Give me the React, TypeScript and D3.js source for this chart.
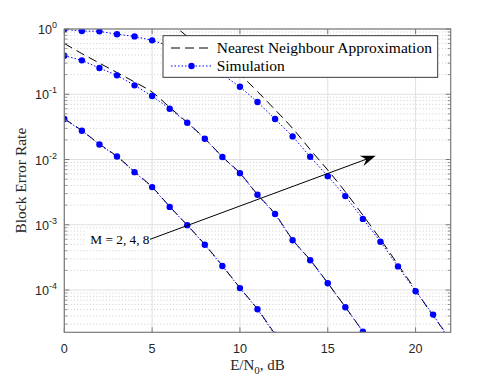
import * as d3 from 'd3';

// Eb/N0 axis values (dB)
const snr = [0, 1, 2, 3, 4, 5, 6, 7, 8, 9, 10, 11, 12, 13, 14, 15, 16, 17, 18, 19, 20, 21, 22];

// simulated block error rate, one array per M (starting at 0 dB)
const simM2 = [0.0417, 0.0276, 0.017, 0.0111, 0.0064, 0.00378, 0.00188, 0.000986, 0.000493, 0.000234, 0.000107, 5.08e-5, 2.05e-5];
const simM4 = [0.39, 0.331, 0.252, 0.195, 0.137, 0.0938, 0.06, 0.0366, 0.0208, 0.0109, 0.00618, 0.00288, 0.00146, 5.8e-4, 2.86e-4, 1.27e-4, 5.45e-5, 2.3e-5];
const simM8 = [0.99, 0.93, 0.92, 0.83, 0.77, 0.67, 0.55, 0.42, 0.3, 0.2, 0.13, 0.076, 0.0417, 0.0226, 0.011, 0.00556, 0.00275, 0.00123, 5.5e-4, 2.3e-4, 9.6e-5, 4.2e-5, 1.6e-5];

// nearest neighbour approximation
const nnM2 = [0.042, 0.0278, 0.0172, 0.0112, 0.0065, 0.0038, 0.0019, 0.00099, 0.0005, 0.000236, 0.000108, 5.1e-5, 2.1e-5];
const nnM4 = [0.6, 0.42, 0.3, 0.215, 0.154, 0.108, 0.063, 0.037, 0.021, 0.011, 0.0062, 0.0029, 0.00147, 5.9e-4, 2.9e-4, 1.28e-4, 5.5e-5, 2.3e-5, 9e-6];
const nnM8Start = 6; // curve is above 1 before 6 dB
const nnM8 = [1.3, 0.77, 0.5, 0.32, 0.2, 0.11, 0.058, 0.03, 0.0142, 0.0069, 0.0032, 0.0014, 6e-4, 2.45e-4, 1e-4, 4e-5, 1.8e-5];

const xTicks = [0, 5, 10, 15, 20];
const yDecades = [0, -1, -2, -3, -4];

// annotation arrow, data coordinates
const arrowFrom = [4.88, 5.98e-4];
const arrowTo = [17.73, 0.01143];
const arrowLabel = 'M = 2, 4, 8';

const W = 498, H = 381;
const L = 64.3, R = 450.7, T = 29, B = 332.3;
const serif = '"Liberation Serif", "Times New Roman", Times, serif';
const sans = '"Liberation Sans", Arial, Helvetica, sans-serif';

export default function App() {
  const x = d3.scaleLinear().domain([0, 22]).range([L, R]);
  const y = d3.scaleLog().domain([2.25e-5, 1]).range([B, T]);

  const toPts = (vals: number[], start = 0) => vals.map((v, i) => [snr[i + start], v] as [number, number]);
  const line = d3.line<[number, number]>().x(d => x(d[0])).y(d => y(d[1]));
  const smooth = d3.line<[number, number]>().x(d => x(d[0])).y(d => y(d[1])).curve(d3.curveMonotoneX);

  const sims = [simM2, simM4, simM8].map(s => toPts(s));
  const approx = [toPts(nnM2), toPts(nnM4), toPts(nnM8, nnM8Start)];

  const minor: number[] = [];
  for (let d = -5; d < 0; d++) for (let k = 2; k <= 9; k++) {
    const v = k * Math.pow(10, d);
    if (v >= 2.25e-5 && v < 1) minor.push(v);
  }

  // arrow geometry
  const ax0 = x(arrowFrom[0]), ay0 = y(arrowFrom[1]);
  const ax1 = x(arrowTo[0]), ay1 = y(arrowTo[1]);
  const len = Math.hypot(ax1 - ax0, ay1 - ay0);
  const ux = (ax1 - ax0) / len, uy = (ay1 - ay0) / len;
  const nx = -uy, ny = ux;
  const head = [
    [ax1, ay1],
    [ax1 - 15 * ux + 5.5 * nx, ay1 - 15 * uy + 5.5 * ny],
    [ax1 - 10 * ux, ay1 - 10 * uy],
    [ax1 - 15 * ux - 5.5 * nx, ay1 - 15 * uy - 5.5 * ny],
  ].map(p => p.join(',')).join(' ');

  const axisColor = '#262626';

  return (
    <div style={{ position: 'fixed', left: 0, top: 0 }}>
      <svg width={W} height={H} style={{ display: 'block', background: '#fff' }}>
        <defs>
          <clipPath id="plot">
            <rect x={L} y={T} width={R - L} height={B - T} />
          </clipPath>
        </defs>

        {/* grid */}
        {minor.map(v => (
          <line key={'m' + v} x1={L} x2={R} y1={y(v)} y2={y(v)} stroke="#c4c4c4" strokeWidth={0.8} strokeDasharray="1,2.2" />
        ))}
        {yDecades.map(d => (
          <line key={'gy' + d} x1={L} x2={R} y1={y(Math.pow(10, d))} y2={y(Math.pow(10, d))} stroke="#e0e0e0" strokeWidth={1} />
        ))}
        {xTicks.map(t => (
          <line key={'gx' + t} x1={x(t)} x2={x(t)} y1={T} y2={B} stroke="#e0e0e0" strokeWidth={1} />
        ))}

        {/* curves */}
        <g clipPath="url(#plot)">
          {approx.map((a, i) => (
            <path key={'a' + i} d={smooth(a) || ''} fill="none" stroke="#000" strokeWidth={1} strokeDasharray="9,5" />
          ))}
          {sims.map((s, i) => (
            <g key={'s' + i}>
              <path d={line(s) || ''} fill="none" stroke="#0000ff" strokeWidth={1} strokeDasharray="1.5,2" />
              {s.map((p, j) => (
                <circle key={j} cx={x(p[0])} cy={y(p[1])} r={3.2} fill="#0000ff" />
              ))}
            </g>
          ))}
        </g>

        {/* axes box and ticks */}
        <rect x={L} y={T} width={R - L} height={B - T} fill="none" stroke="#7a7a7a" strokeWidth={1.2} />
        {xTicks.map(t => (
          <g key={'tx' + t}>
            <line x1={x(t)} x2={x(t)} y1={B} y2={B - 5} stroke="#7a7a7a" />
            <line x1={x(t)} x2={x(t)} y1={T} y2={T + 5} stroke="#7a7a7a" />
            <text x={x(t)} y={352.5} textAnchor="middle" fontFamily={sans} fontSize={12.6} fill={axisColor}>{t}</text>
          </g>
        ))}
        {yDecades.map(d => (
          <g key={'ty' + d}>
            <line x1={L} x2={L + 5} y1={y(Math.pow(10, d))} y2={y(Math.pow(10, d))} stroke="#7a7a7a" />
            <line x1={R} x2={R - 5} y1={y(Math.pow(10, d))} y2={y(Math.pow(10, d))} stroke="#7a7a7a" />
            <text x={57} y={y(Math.pow(10, d)) + 5} textAnchor="end" fontFamily={sans} fontSize={12.6} fill={axisColor}>
              10<tspan dy={-6} fontSize={9}>{d}</tspan>
            </text>
          </g>
        ))}
        {minor.map(v => (
          <g key={'mt' + v}>
            <line x1={L} x2={L + 3} y1={y(v)} y2={y(v)} stroke="#7a7a7a" strokeWidth={0.8} />
            <line x1={R} x2={R - 3} y1={y(v)} y2={y(v)} stroke="#7a7a7a" strokeWidth={0.8} />
          </g>
        ))}

        {/* axis labels */}
        <text x={(L + R) / 2} y={370} textAnchor="middle" fontFamily={serif} fontSize={15} fill={axisColor}>
          E/N<tspan dy={4} fontSize={11}>0</tspan><tspan dy={-4}>, dB</tspan>
        </text>
        <text transform={`translate(26,${(T + B) / 2}) rotate(-90)`} textAnchor="middle" fontFamily={serif} fontSize={15.5} fill={axisColor}>
          Block Error Rate
        </text>

        {/* legend */}
        <rect x={163} y={35.7} width={274.7} height={41.6} fill="#fff" stroke={axisColor} strokeWidth={0.9} />
        <line x1={171} x2={212} y1={48} y2={48} stroke="#000" strokeWidth={1} strokeDasharray="9,5" />
        <text x={216.7} y={53.3} fontFamily={serif} fontSize={15.5} fill="#000">Nearest Neighbour Approximation</text>
        <line x1={171} x2={212} y1={66} y2={66} stroke="#0000ff" strokeWidth={1} strokeDasharray="1.5,2" />
        <circle cx={191.5} cy={66} r={3.2} fill="#0000ff" />
        <text x={216.7} y={71.3} fontFamily={serif} fontSize={15.5} fill="#000">Simulation</text>

        {/* annotation */}
        <rect x={86} y={229.5} width={64} height={18} fill="#fff" />
        <line x1={ax0} y1={ay0} x2={ax1 - 10 * ux} y2={ay1 - 10 * uy} stroke="#000" strokeWidth={1} />
        <polygon points={head} fill="#000" />
        <text x={149.5} y={243.5} textAnchor="end" fontFamily={serif} fontSize={13.3} fill="#000">{arrowLabel}</text>
      </svg>
    </div>
  );
}
